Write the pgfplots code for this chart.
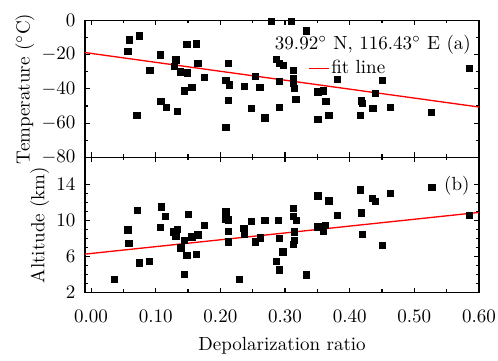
\documentclass[border=0pt]{standalone}
\usepackage{pgfplots}
\pgfplotsset{compat=1.18}
\begin{document}
\begin{tikzpicture}
\pgfplotsset{
  every axis/.append style={
    scale only axis, width=207pt,
    xmin=-0.0093, xmax=0.6,
    xtick={0,0.1,...,0.61}, minor x tick num=1,
    tick align=inside, ticks=both,
    xtick pos=both, ytick pos=both,
    major tick length=2.6pt, minor tick length=1.6pt,
    axis line style={line width=0.8pt},
    every tick/.style={black, line width=0.6pt},
    tick label style={font=\normalsize},
    yticklabel style={xshift=-1.5pt},
    ylabel style={yshift=-3pt},
  },
}
\begin{axis}[name=top, height=72pt,
  ymin=-80, ymax=0, ytick={-80,-60,...,0}, minor y tick num=1,
  xticklabels={},
  ylabel={Temperature ($^\circ$C)},
  legend style={at={(axis cs:0.335,-28.2)}, anchor=west, draw=none, fill=none, font=\normalsize, inner sep=0pt, nodes={inner sep=1pt}},
  legend cell align=left,
  legend image code/.code={\draw[#1] (0cm,0cm) -- (0.37cm,0cm);},
  clip=false,
]
\addplot[only marks, mark=square*, mark size=1.65pt, black, forget plot] coordinates {
(0.0568,-18.2) (0.059,-11.4) (0.0743,-9.0) (0.071,-55.5) (0.091,-29) (0.107,-20.2)
(0.108,-47.4) (0.116,-50.6) (0.131,-23.1) (0.1285,-27.0) (0.138,-30) (0.149,-30.6)
(0.134,-53.1) (0.1445,-41.2) (0.148,-13.9) (0.163,-13.7) (0.165,-25.3) (0.156,-39.2)
(0.175,-33.3) (0.2086,-35.1) (0.2126,-25.1) (0.2137,-37.6) (0.2122,-46.8) (0.2086,-62.5)
(0.237,-38.4) (0.2478,-51.5) (0.2545,-32.5) (0.261,-39.2) (0.269,-57) (0.279,-0.4)
(0.3097,-0.4) (0.333,-6.2) (0.2865,-22.7) (0.2916,-25) (0.297,-26.2) (0.2916,-35.5)
(0.2916,-50.6) (0.3133,-29.4) (0.3133,-33.9) (0.3133,-36.8) (0.3144,-39.8) (0.317,-46.2)
(0.351,-41.8) (0.351,-58) (0.3597,-41.2) (0.3634,-47.4) (0.368,-55.5) (0.381,-34.5)
(0.4165,-55.5) (0.418,-47) (0.420,-48.6) (0.436,-51.5) (0.4398,-42.7) (0.451,-35.1)
(0.4635,-50.6) (0.5265,-53.9) (0.585,-28.2)
};
\addplot[red, line width=0.7pt, no marks] coordinates {(-0.0093,-18.8) (0.6,-50.6)};
\addlegendentry{fit line}
\node[anchor=east, inner sep=0pt] at (axis cs:0.588,-14.3) {39.92$^\circ$ N, 116.43$^\circ$ E (a)};
\end{axis}
\begin{axis}[name=bot, at={(top.south west)}, anchor=north west, height=71pt,
  ymin=2, ymax=17, ytick={2,6,10,14}, minor y tick num=3,
  xticklabel style={yshift=-5.8pt, /pgf/number format/.cd, fixed, fixed zerofill, precision=2},
  ylabel={Altitude (km)},
  xlabel={Depolarization ratio},
  xlabel style={yshift=-1pt},
  clip=false,
]
\addplot[only marks, mark=square*, mark size=1.65pt, black] coordinates {
(0.0356,3.48) (0.0568,8.96) (0.0584,7.48) (0.0712,11.1) (0.0748,5.29) (0.0903,5.48)
(0.107,9.22) (0.109,11.5) (0.1146,10.44) (0.1275,8.73) (0.1337,9.03) (0.131,8.22)
(0.1388,6.96) (0.1445,7.78) (0.148,6.11) (0.1445,4.03) (0.150,10.7) (0.156,8.18)
(0.165,8.4) (0.163,6.22) (0.175,9.48) (0.2086,10.96) (0.2086,10.14) (0.2122,10.07)
(0.2126,8.78) (0.2126,7.62) (0.2293,3.44) (0.2364,9.11) (0.2374,8.48) (0.2478,9.92)
(0.254,7.62) (0.2617,8.07) (0.269,10.03) (0.2900,10.03) (0.2911,8.03) (0.2865,5.48)
(0.2911,4.51) (0.2966,6.52) (0.3133,11.37) (0.3133,10.44) (0.3174,10.03) (0.3144,8.73)
(0.315,7.78) (0.3133,7.37) (0.333,3.96) (0.351,12.74) (0.351,9.29) (0.3597,8.81)
(0.3625,9.48) (0.368,12.18) (0.381,10.59) (0.416,13.4) (0.418,10.85) (0.420,8.44)
(0.4356,12.48) (0.4398,12.11) (0.4506,7.22) (0.4635,13) (0.527,13.67) (0.585,10.59)
};
\addplot[red, line width=0.7pt, no marks] coordinates {(-0.0093,6.26) (0.6,10.89)};
\node[anchor=east, inner sep=0pt] at (axis cs:0.586,13.8) {(b)};
\end{axis}
\path (top.north west) ++(-44.7pt,10.7pt) coordinate (BBA);
\path (bot.south east) ++(10pt,-36pt) coordinate (BBB);
\pgfresetboundingbox
\path[use as bounding box] (BBA) rectangle (BBB);
\end{tikzpicture}
\end{document}
